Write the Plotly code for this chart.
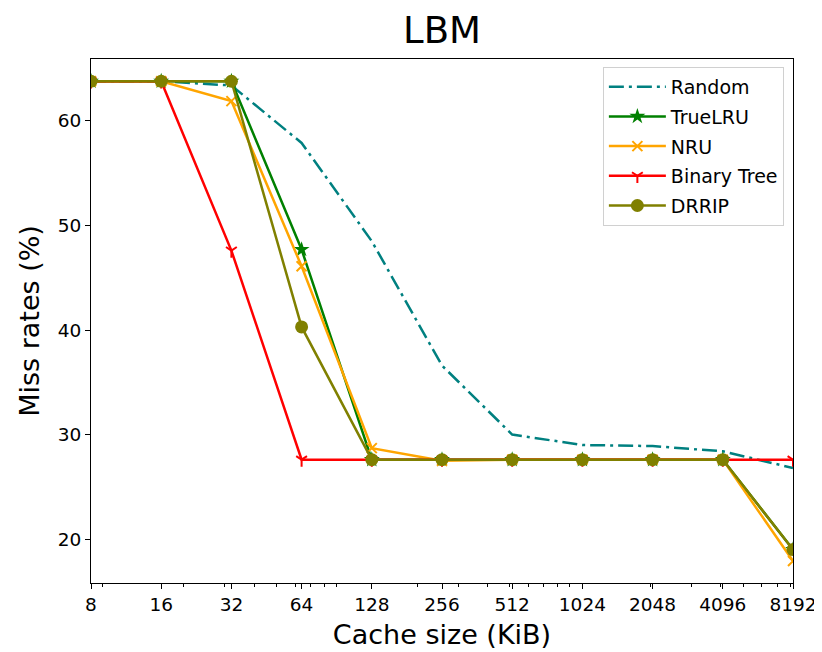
import math
import plotly.graph_objects as go

cache_sizes = [8, 16, 32, 64, 128, 256, 512, 1024, 2048, 4096, 8192]
tick_labels = [str(v) for v in cache_sizes]

random_vals = [63.8, 63.8, 63.4, 57.9, 48.5, 36.6, 30.0, 29.0, 28.9, 28.4, 26.8]
truelru_vals = [63.8, 63.8, 63.8, 47.7, 27.6, 27.6, 27.6, 27.6, 27.6, 27.6, 19.0]
nru_vals = [63.8, 63.8, 61.9, 46.1, 28.7, 27.5, 27.6, 27.6, 27.6, 27.6, 17.9]
bintree_vals = [63.8, 63.8, 47.6, 27.6, 27.6, 27.6, 27.6, 27.6, 27.6, 27.6, 27.6]
drrip_vals = [63.8, 63.8, 63.8, 40.3, 27.6, 27.6, 27.6, 27.6, 27.6, 27.6, 19.0]

minor_ticks = [9, 20, 30, 40, 50, 60, 70, 80, 90, 200, 300, 400, 500, 600, 700, 800, 900,
               2000, 3000, 4000, 5000, 6000, 7000, 8000]

FONT = "DejaVu Sans"
LW = 2.5

fig = go.Figure()
fig.add_trace(go.Scatter(x=cache_sizes, y=random_vals, name="Random", mode="lines",
                         legendgroup="a",
                         line=dict(color="#008080", width=LW, dash="15px,5px,3px,5px")))
fig.add_trace(go.Scatter(x=cache_sizes, y=truelru_vals, name="TrueLRU", mode="lines+markers",
                         legendgroup="b",
                         line=dict(color="#008000", width=LW),
                         marker=dict(symbol="star", size=12, color="#008000")))
fig.add_trace(go.Scatter(x=cache_sizes, y=nru_vals, name="NRU", mode="lines+markers",
                         legendgroup="c",
                         line=dict(color="#FFA500", width=LW),
                         marker=dict(symbol="x-thin", size=10, color="#FFA500",
                                     line=dict(color="#FFA500", width=2))))
fig.add_trace(go.Scatter(x=cache_sizes, y=bintree_vals, name="Binary Tree", mode="lines+markers",
                         legendgroup="d",
                         line=dict(color="#FF0000", width=LW),
                         marker=dict(symbol="y-down", size=9, color="#FF0000",
                                     line=dict(color="#FF0000", width=2))))
fig.add_trace(go.Scatter(x=cache_sizes, y=drrip_vals, name="DRRIP", mode="lines+markers",
                         legendgroup="e",
                         line=dict(color="#808000", width=LW),
                         marker=dict(symbol="circle", size=13, color="#808000")))

fig.update_layout(
    width=814, height=644,
    margin=dict(l=83, r=29, t=51, b=69),
    paper_bgcolor="white", plot_bgcolor="white",
    font=dict(family=FONT, color="black", size=18),
    title=dict(text="LBM", x=0.5, xref="paper", xanchor="center",
               y=0.965, yanchor="middle",
               font=dict(size=37, family=FONT, color="black")),
    showlegend=True,
    legend=dict(x=0.987, xanchor="right", y=0.985, yanchor="top",
                bgcolor="rgba(255,255,255,0.8)", bordercolor="#d0d0d0", borderwidth=1,
                font=dict(size=19, family=FONT), tracegroupgap=2, itemwidth=57),
)
fig.update_xaxes(
    type="log", range=[math.log10(8), math.log10(8192)],
    tickvals=cache_sizes, ticktext=tick_labels, automargin=False,
    ticks="outside", ticklen=5, tickwidth=1, tickcolor="black",
    showline=True, linecolor="black", linewidth=1, mirror=True,
    showgrid=False, zeroline=False,
    tickfont=dict(size=18.5, family=FONT),
    title=dict(text="Cache size (KiB)", font=dict(size=27, family=FONT), standoff=10),
    minor=dict(tickvals=minor_ticks, ticks="outside", ticklen=3, tickcolor="black", showgrid=False),
)
fig.update_yaxes(
    range=[15.8, 65.93],
    tickvals=[20, 30, 40, 50, 60], automargin=False,
    ticks="outside", ticklen=5, tickwidth=1, tickcolor="black",
    showline=True, linecolor="black", linewidth=1, mirror=True,
    showgrid=False, zeroline=False,
    tickfont=dict(size=18.5, family=FONT),
    title=dict(text="Miss rates (%)", font=dict(size=27, family=FONT), standoff=10),
)

fig.write_html("out.html")
